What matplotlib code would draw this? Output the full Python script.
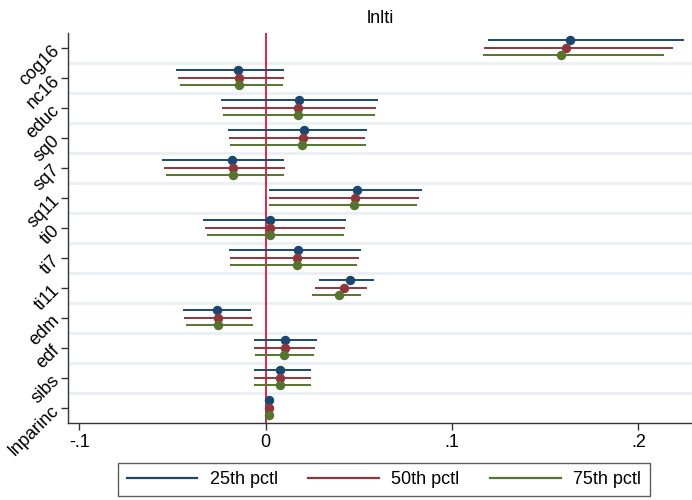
import matplotlib
matplotlib.use("Agg")
import matplotlib.pyplot as plt
from matplotlib.lines import Line2D
import numpy as np

plt.rcParams['font.family'] = ['Liberation Sans', 'DejaVu Sans']

title = "lnlti"
variables = ["cog16", "nc16", "educ", "sq0", "sq7", "sq11", "ti0", "ti7",
             "ti11", "edm", "edf", "sibs", "lnparinc"]
series_names = ["25th pctl", "50th pctl", "75th pctl"]

# point estimates and confidence bounds per quantile
est_25 = [0.1635, -0.0147, 0.0179, 0.0204, -0.0179, 0.0490, 0.0025, 0.0172,
          0.0451, -0.0261, 0.0104, 0.0075, 0.0018]
lo_25 = [0.1195, -0.0483, -0.0238, -0.0204, -0.0557, 0.0016, -0.0335, -0.0197,
         0.0286, -0.0446, -0.0063, -0.0063, 0.0012]
hi_25 = [0.2244, 0.0097, 0.0603, 0.0542, 0.0100, 0.0837, 0.0429, 0.0512,
         0.0580, -0.0077, 0.0274, 0.0245, 0.0024]

est_50 = [0.1610, -0.0143, 0.0175, 0.0200, -0.0177, 0.0481, 0.0025, 0.0168,
          0.0419, -0.0258, 0.0102, 0.0075, 0.0018]
lo_50 = [0.1173, -0.0469, -0.0233, -0.0195, -0.0546, 0.0016, -0.0326, -0.0193,
         0.0266, -0.0437, -0.0063, -0.0063, 0.0012]
hi_50 = [0.2186, 0.0097, 0.0592, 0.0535, 0.0104, 0.0825, 0.0426, 0.0499,
         0.0542, -0.0074, 0.0266, 0.0245, 0.0024]

est_75 = [0.1585, -0.0142, 0.0173, 0.0197, -0.0174, 0.0472, 0.0025, 0.0166,
          0.0393, -0.0254, 0.0100, 0.0075, 0.0018]
lo_75 = [0.1168, -0.0460, -0.0228, -0.0190, -0.0535, 0.0016, -0.0317, -0.0190,
         0.0247, -0.0428, -0.0059, -0.0063, 0.0012]
hi_75 = [0.2136, 0.0094, 0.0585, 0.0537, 0.0100, 0.0812, 0.0422, 0.0488,
         0.0512, -0.0070, 0.0259, 0.0245, 0.0024]

x_ticks = [-0.1, 0.0, 0.1, 0.2]
x_tick_labels = ["-.1", "0", ".1", ".2"]

colors = ["#1a476f", "#90353b", "#55752f"]
offsets = [-0.25, 0.0, 0.25]
series = [(est_25, lo_25, hi_25), (est_50, lo_50, hi_50), (est_75, lo_75, hi_75)]

fig = plt.figure(figsize=(6.92, 5.0), dpi=100)
ax = fig.add_axes([68 / 692, 77 / 500, 624 / 692, 390 / 500])

n = len(variables)
pos = np.arange(1, n + 1)

# light separators between coefficient groups
for b in np.arange(1.5, n, 1.0):
    ax.axhline(b, color="#e9eff3", lw=2.0, zorder=0)

ax.axvline(0, color="#d6173b", lw=1.3, zorder=1)

for (est, lo, hi), c, off in zip(series, colors, offsets):
    y = pos + off
    ax.hlines(y, lo, hi, colors=c, lw=1.4, zorder=2)
    ax.plot(est, y, "o", color=c, ms=5.8, mec=c, zorder=3, ls="none")

ax.set_xlim(-0.1061, 0.2288)
ax.set_ylim(n + 0.5, 0.5)
ax.set_xticks(x_ticks)
ax.set_xticklabels(x_tick_labels, fontsize=13)
ax.set_yticks(pos)
ax.set_yticklabels(variables, fontsize=13, rotation=45, ha="right",
                   va="center", rotation_mode="anchor")

for s in ["top", "right"]:
    ax.spines[s].set_visible(False)
for s in ["left", "bottom"]:
    ax.spines[s].set_color("#333333")
    ax.spines[s].set_linewidth(1.0)
ax.tick_params(axis="both", direction="out", length=5, width=1.0,
               color="#333333", pad=3)

ax.set_title(title, fontsize=13, pad=7)

handles = [Line2D([0], [0], color=c, lw=1.6) for c in colors]
leg = fig.legend(handles, series_names, loc="center", ncol=3,
                 bbox_to_anchor=(384 / 692, 1 - 479.5 / 500),
                 fontsize=13, handlelength=3.9, handletextpad=0.7,
                 columnspacing=1.7, frameon=True, fancybox=False,
                 borderpad=0.45)
leg.get_frame().set_edgecolor("#333333")
leg.get_frame().set_linewidth(1.0)

fig.savefig("out.png", dpi=100)
